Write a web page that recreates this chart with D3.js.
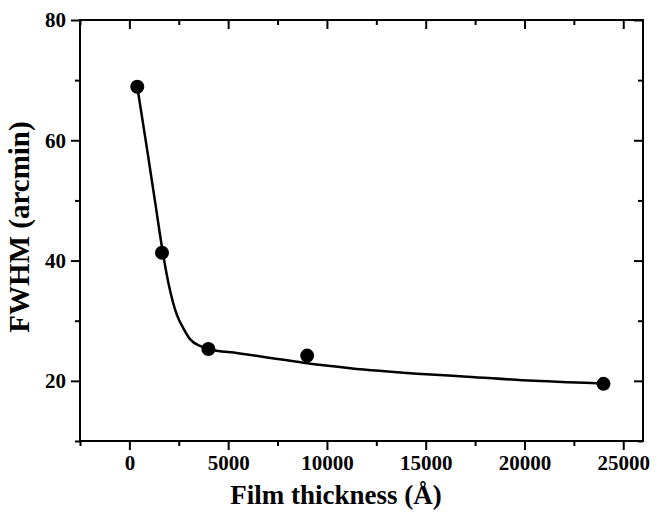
<!DOCTYPE html>
<html>
<head>
<meta charset="utf-8">
<script src="https://cdn.jsdelivr.net/npm/d3@7"></script>
<style>
  body { margin: 0; background: #fff; }
  text { font-family: "Liberation Serif", "Times New Roman", serif; font-weight: bold; fill: #000; }
</style>
</head>
<body>
<div id="chart"></div>
<script>
// measured points: film thickness (Å) vs FWHM (arcmin)
var thickness = [400, 1650, 4000, 9000, 24000];
var fwhm = [68.9, 41.3, 25.3, 24.2, 19.5];

// fitted curve
var fitX = [400, 900, 1300, 1690, 2000, 2400, 2740, 3080, 3580, 4000, 5500, 6960, 8820, 11180, 14560, 17100, 20470, 23680, 24000];
var fitY = [68.9, 58.4, 49.8, 41.4, 35.9, 31.0, 28.7, 26.9, 25.8, 25.3, 24.6, 23.9, 23.0, 22.1, 21.2, 20.7, 20.0, 19.6, 19.55];

var xMajor = [0, 5000, 10000, 15000, 20000, 25000];
var xMinor = [-2500, 2500, 7500, 12500, 17500, 22500];
var yMajor = [20, 40, 60, 80];
var yMinor = [10, 30, 50, 70];

var W = 664, H = 514;
var pLeft = 80, pRight = 643, pTop = 20, pBottom = 441;

var x = d3.scaleLinear().domain([-2500, 26000]).range([pLeft, pRight]);
var y = d3.scaleLinear().domain([10, 80]).range([pBottom, pTop]);

var svg = d3.select("#chart").append("svg")
    .attr("width", W)
    .attr("height", H);

function styleAxis(g) {
    g.select(".domain").remove();
    g.selectAll("line").attr("stroke", "#000").attr("stroke-width", 2);
    g.selectAll("text").style("font-size", "21px");
}

// bottom axis (ticks outward)
svg.append("g")
    .attr("transform", "translate(0," + pBottom + ")")
    .call(d3.axisBottom(x).tickValues(xMajor).tickSize(9).tickPadding(5).tickFormat(d3.format("d")))
    .call(styleAxis);
svg.append("g")
    .attr("transform", "translate(0," + pBottom + ")")
    .call(d3.axisBottom(x).tickValues(xMinor).tickSize(5).tickFormat(""))
    .call(styleAxis);

// top axis (ticks inward)
svg.append("g")
    .attr("transform", "translate(0," + pTop + ")")
    .call(d3.axisBottom(x).tickValues(xMajor).tickSize(9).tickFormat(""))
    .call(styleAxis);
svg.append("g")
    .attr("transform", "translate(0," + pTop + ")")
    .call(d3.axisBottom(x).tickValues(xMinor).tickSize(5).tickFormat(""))
    .call(styleAxis);

// left axis (ticks outward)
svg.append("g")
    .attr("transform", "translate(" + pLeft + ",0)")
    .call(d3.axisLeft(y).tickValues(yMajor).tickSize(9).tickPadding(5))
    .call(styleAxis);
svg.append("g")
    .attr("transform", "translate(" + pLeft + ",0)")
    .call(d3.axisLeft(y).tickValues(yMinor).tickSize(5).tickFormat(""))
    .call(styleAxis);

// right axis (ticks inward)
svg.append("g")
    .attr("transform", "translate(" + pRight + ",0)")
    .call(d3.axisLeft(y).tickValues(yMajor).tickSize(9).tickFormat(""))
    .call(styleAxis);
svg.append("g")
    .attr("transform", "translate(" + pRight + ",0)")
    .call(d3.axisLeft(y).tickValues(yMinor).tickSize(5).tickFormat(""))
    .call(styleAxis);

// frame
svg.append("rect")
    .attr("x", pLeft).attr("y", pTop)
    .attr("width", pRight - pLeft).attr("height", pBottom - pTop)
    .attr("fill", "none").attr("stroke", "#000").attr("stroke-width", 2);

// fit curve
var fit = fitX.map(function(d, i) { return [d, fitY[i]]; });
var line = d3.line()
    .x(function(d) { return x(d[0]); })
    .y(function(d) { return y(d[1]); })
    .curve(d3.curveMonotoneX);
svg.append("path")
    .datum(fit)
    .attr("fill", "none")
    .attr("stroke", "#000")
    .attr("stroke-width", 2.5)
    .attr("d", line);

// points
svg.selectAll("circle.pt")
    .data(thickness)
    .enter().append("circle")
    .attr("class", "pt")
    .attr("cx", function(d) { return x(d); })
    .attr("cy", function(d, i) { return y(fwhm[i]); })
    .attr("r", 7)
    .attr("fill", "#000");

// axis labels
svg.append("text")
    .attr("x", 336)
    .attr("y", 504)
    .attr("text-anchor", "middle")
    .style("font-size", "27px")
    .text("Film thickness (Å)");

svg.append("text")
    .attr("transform", "translate(29," + 227 + ") rotate(-90)")
    .attr("text-anchor", "middle")
    .style("font-size", "29px")
    .text("FWHM (arcmin)");
</script>
</body>
</html>
